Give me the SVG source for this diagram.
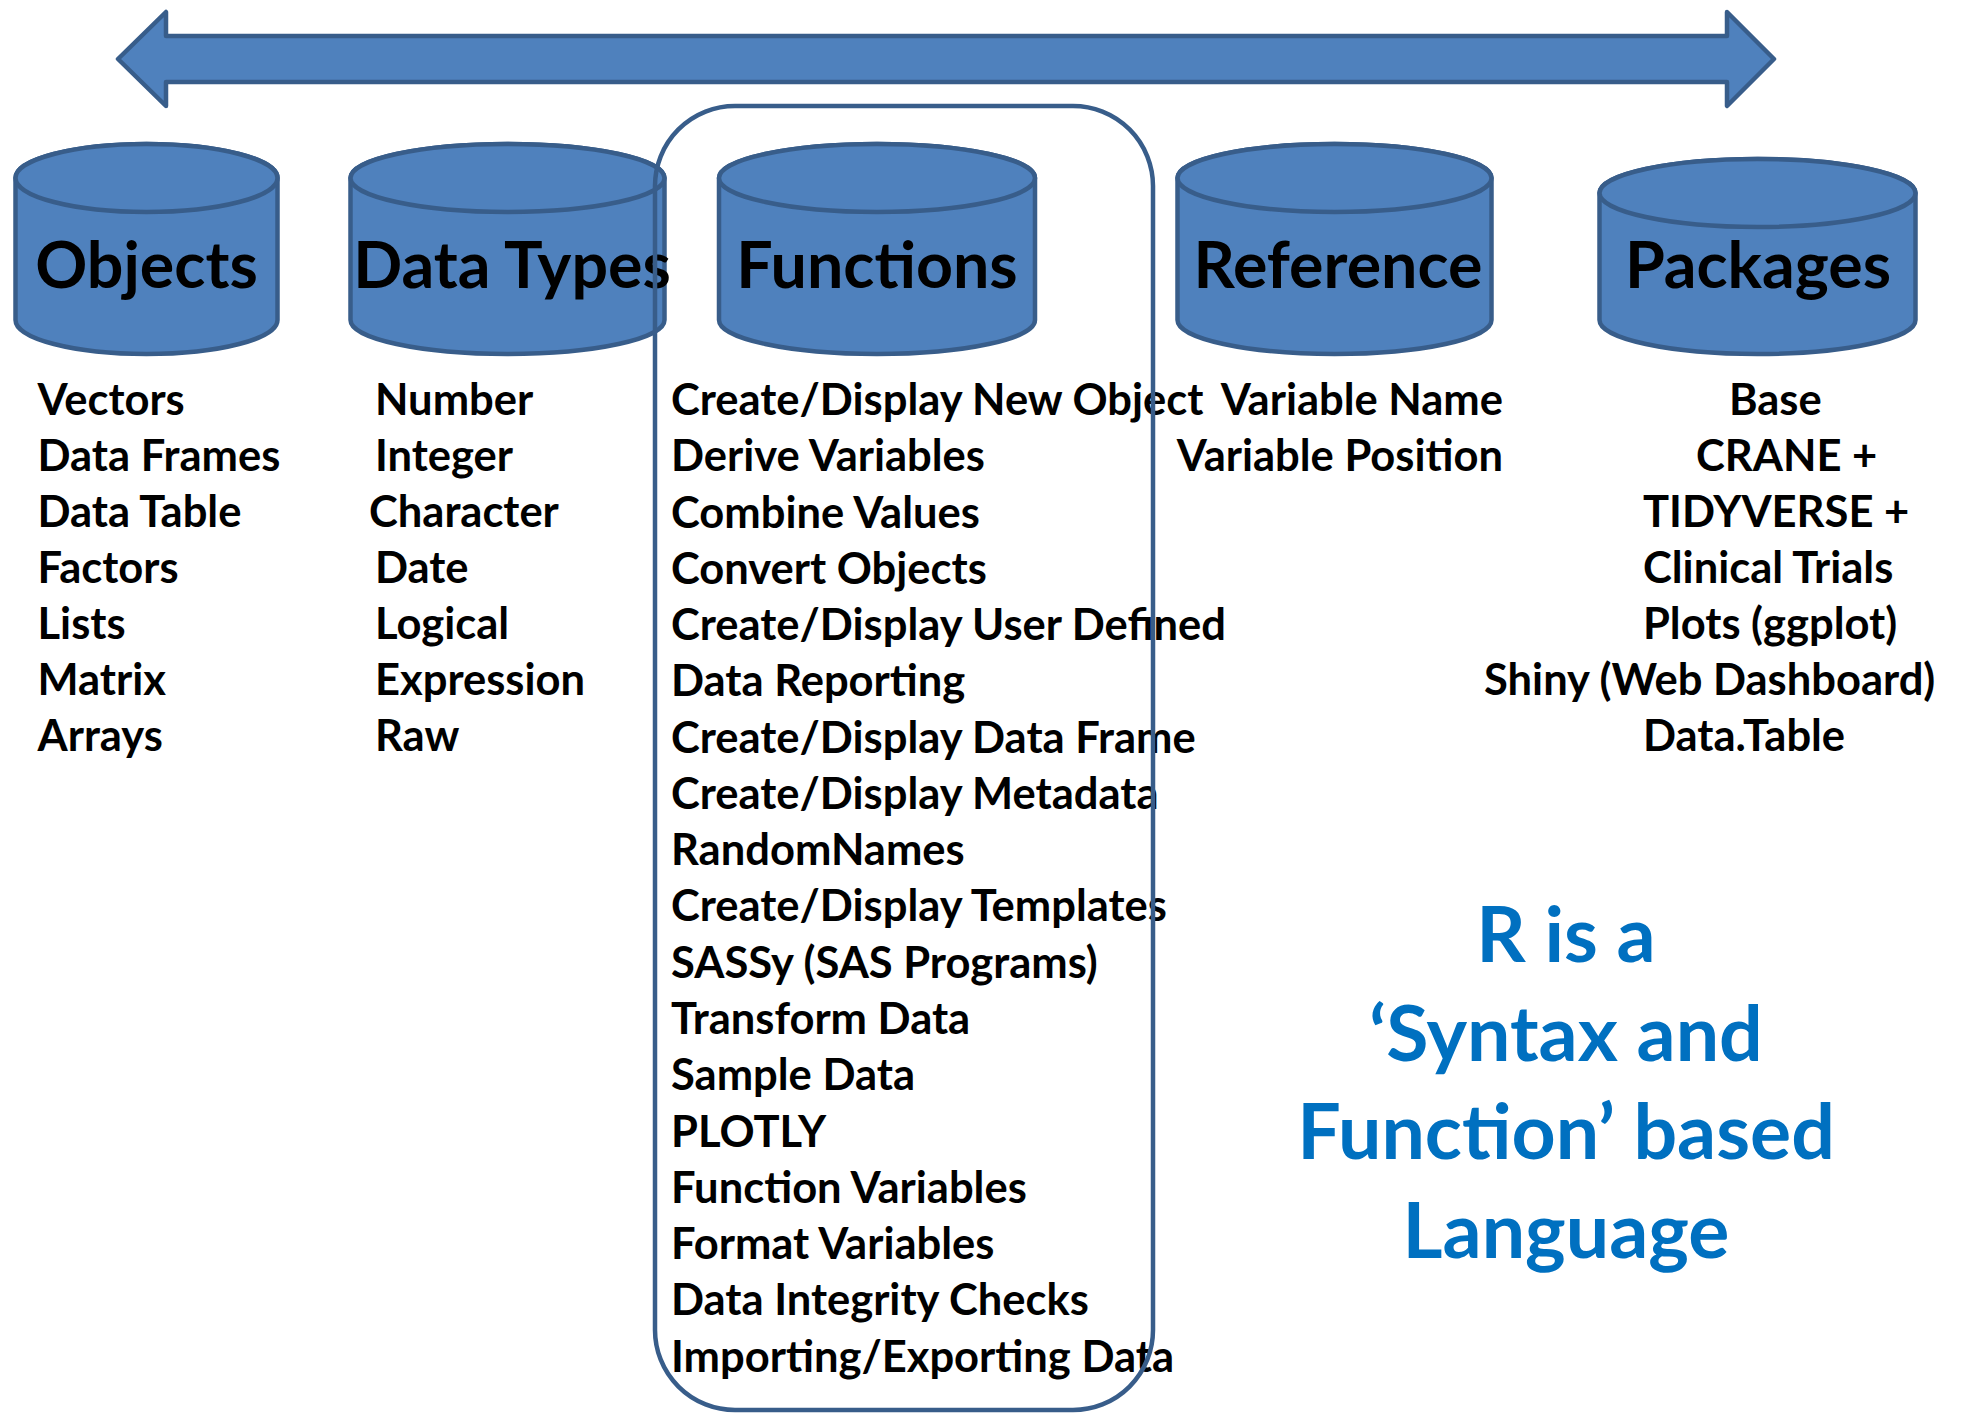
<svg xmlns="http://www.w3.org/2000/svg" width="1961" height="1414" viewBox="0 0 1961 1414">
<style>
.shape{fill:#4F81BD;stroke:#385D8A;stroke-width:4.5;stroke-linejoin:round}
.lbl{font-family:Lato,"Liberation Sans",sans-serif;font-weight:bold;font-size:64.5px;fill:#000;text-anchor:middle}
.t{font-family:Lato,"Liberation Sans",sans-serif;font-weight:bold;font-size:43.5px;fill:#000}
.m{text-anchor:middle}
.e{text-anchor:end}
.blue{font-family:Lato,"Liberation Sans",sans-serif;font-weight:bold;font-size:77px;fill:#0070C0;text-anchor:middle}
.frame{fill:none;stroke:#385D8A;stroke-width:4.5}
</style>
<rect width="1961" height="1414" fill="#fff"/>
<g id="connectors">
<polygon id="double-arrow" class="shape" points="118,59 166,12 166,36 1727,36 1727,12 1774,59 1727,106 1727,82 166,82 166,106"/>
</g>
<g id="node-objects">
<path class="shape" d="M15.5,178 L15.5,320 A131,34 0 0 0 277.5,320 L277.5,178 A131,34 0 0 0 15.5,178 Z"/>
<ellipse class="shape" cx="146.5" cy="178" rx="131" ry="34"/>
<text class="lbl" x="146.5" y="288">Objects</text>
<g class="t">
<text x="37.5" y="415">Vectors</text>
<text x="37.5" y="471">Data Frames</text>
<text x="37.5" y="527">Data Table</text>
<text x="37.5" y="583">Factors</text>
<text x="37.5" y="639">Lists</text>
<text x="37.5" y="695">Matrix</text>
<text x="37.5" y="751">Arrays</text>
</g>
</g>
<g id="node-datatypes">
<path class="shape" d="M350.5,178 L350.5,320 A157,34 0 0 0 664.5,320 L664.5,178 A157,34 0 0 0 350.5,178 Z"/>
<ellipse class="shape" cx="507.5" cy="178" rx="157" ry="34"/>
<text class="lbl" x="512" y="288">Data Types</text>
<g class="t">
<text x="375" y="415">Number</text>
<text x="375" y="471">Integer</text>
<text x="369" y="527">Character</text>
<text x="375" y="583">Date</text>
<text x="375" y="639">Logical</text>
<text x="375" y="695">Expression</text>
<text x="375" y="751">Raw</text>
</g>
</g>
<g id="node-functions">
<path class="shape" d="M719,178 L719,320 A158,34 0 0 0 1035,320 L1035,178 A158,34 0 0 0 719,178 Z"/>
<ellipse class="shape" cx="877" cy="178" rx="158" ry="34"/>
<text class="lbl" x="877" y="288">Functions</text>
<g class="t">
<text x="671" y="415">Create/Display New Object</text>
<text x="671" y="471.3">Derive Variables</text>
<text x="671" y="527.5">Combine Values</text>
<text x="671" y="583.8">Convert Objects</text>
<text x="671" y="640.1">Create/Display User Defined</text>
<text x="671" y="696.4">Data Reporting</text>
<text x="671" y="752.6">Create/Display Data Frame</text>
<text x="671" y="808.9">Create/Display Metadata</text>
<text x="671" y="865.2">RandomNames</text>
<text x="671" y="921.4">Create/Display Templates</text>
<text x="671" y="977.7">SASSy (SAS Programs)</text>
<text x="671" y="1034">Transform Data</text>
<text x="671" y="1090.2">Sample Data</text>
<text x="671" y="1146.5">PLOTLY</text>
<text x="671" y="1202.8">Function Variables</text>
<text x="671" y="1259">Format Variables</text>
<text x="671" y="1315.3">Data Integrity Checks</text>
<text x="671" y="1371.6">Importing/Exporting Data</text>
</g>
<rect class="frame" x="655" y="106" width="498" height="1304" rx="80" ry="80"/>
</g>
<g id="node-reference">
<path class="shape" d="M1177.5,178 L1177.5,320 A157,34 0 0 0 1491.5,320 L1491.5,178 A157,34 0 0 0 1177.5,178 Z"/>
<ellipse class="shape" cx="1334.5" cy="178" rx="157" ry="34"/>
<text class="lbl" x="1338" y="288">Reference</text>
<g class="t e">
<text x="1503" y="415">Variable Name</text>
<text x="1503" y="471">Variable Position</text>
</g>
</g>
<g id="node-packages">
<path class="shape" d="M1599.5,193 L1599.5,320 A158,34 0 0 0 1915.5,320 L1915.5,193 A158,34 0 0 0 1599.5,193 Z"/>
<ellipse class="shape" cx="1757.5" cy="193" rx="158" ry="34"/>
<text class="lbl" x="1758" y="288">Packages</text>
<g class="t">
<text x="1729" y="415">Base</text>
<text x="1696" y="471">CRANE +</text>
<text x="1643" y="527">TIDYVERSE +</text>
<text x="1643" y="583">Clinical Trials</text>
<text x="1643" y="639">Plots (ggplot)</text>
<text x="1484" y="695">Shiny (Web Dashboard)</text>
<text x="1643" y="751">Data.Table</text>
</g>
</g>
<g id="caption">
<text class="blue" x="1566" y="962">R is a</text>
<text class="blue" x="1566" y="1061">‘Syntax and</text>
<text class="blue" x="1566" y="1159">Function’ based</text>
<text class="blue" x="1566" y="1258">Language</text>
</g>
</svg>
